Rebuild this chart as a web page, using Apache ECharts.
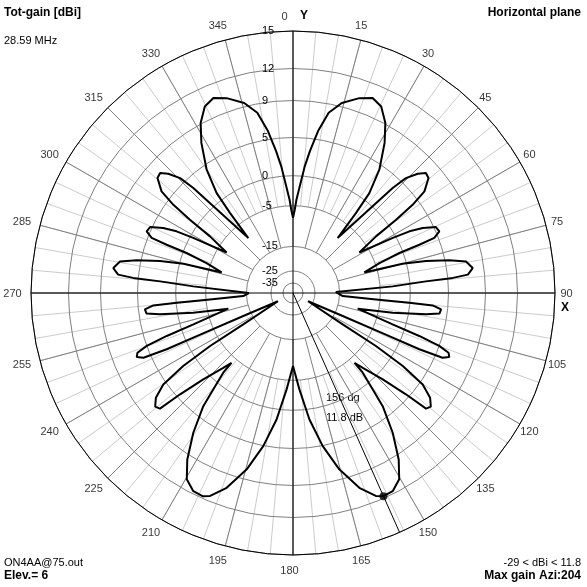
<!DOCTYPE html>
<html>
<head>
<meta charset="utf-8">
<script src="https://cdn.jsdelivr.net/npm/echarts@6/dist/echarts.min.js"></script>
<style>
  html, body { margin: 0; padding: 0; background: #ffffff; }
  #chart { width: 587px; height: 587px; }
</style>
</head>
<body>
<div id="chart"></div>
<script>
// Horizontal-plane pattern: azimuth (deg, clockwise from Y) and total gain (dBi)
const azimuthDeg = [
  0, 1.2, 2.1, 3.6, 5.3, 6.8, 8.8, 11.2, 14.4, 18.8, 22.2, 25.3, 28.5, 31.4, 35.0, 37.4, 38.2, 39.1,
  42.7, 43.5, 44.5, 46.3, 47.9, 49.7, 52.3, 53.6, 54.6, 55.7, 58.6,
  61.1, 62.1, 63.4, 65.2, 67.2, 68.7, 69.1, 69.4, 70.9, 73.9,
  75.0, 76.5, 78.2, 79.7, 82.1, 84.0, 84.6, 85.0, 86.2, 88.7, 90,
  93.5, 94.4, 94.8, 95.1, 96.3, 98.0, 99.1, 101.2, 103.6,
  107.5, 108.8, 109.9, 111.0, 112.3, 113.4, 114.0, 114.2, 114.8, 118.8,
  122.3, 122.6, 123.6, 125.2, 127.4, 129.5, 131.0, 131.9, 133.9, 137.0, 138.6,
  138.8, 140.4, 141.6, 144.5, 147.6, 150.3, 153.3, 156.0, 157.8, 161.2, 165.3, 169.0, 172.6, 176.2, 180,
  183.8, 187.4, 191.0, 194.7, 198.8, 202.2, 204.0, 206.7, 209.7, 212.4, 215.5, 218.4, 219.6, 221.2,
  221.4, 223.0, 226.1, 228.1, 229.0, 230.5, 232.6, 234.8, 236.4, 237.4, 237.7,
  241.2, 245.2, 245.8, 246.0, 246.6, 247.7, 249.0, 250.1, 251.2, 252.5,
  256.4, 258.8, 260.9, 262.0, 263.7, 264.9, 265.2, 265.6, 266.5,
  270, 271.3, 273.8, 275.0, 275.4, 276.0, 277.9, 280.3, 281.8, 283.5, 285.0,
  286.1, 289.1, 290.6, 290.9, 291.3, 292.8, 294.8, 296.6, 297.9, 298.9,
  301.4, 304.3, 305.4, 306.4, 307.7, 310.3, 312.1, 313.7, 315.5, 316.5, 317.3,
  320.9, 321.8, 322.6, 325.0, 328.6, 331.5, 334.7, 337.8, 341.2, 345.6, 348.8, 351.2, 353.2, 354.7,
  356.4, 357.9, 358.8, 360
];
const gainDbi = [
  -8.0, -6.0, -4.0, -1.75, 1.3, 3.35, 5.9, 8.05, 9.35, 10.25, 10.7, 10.3, 9.1, 7.2, 4.35, 1.1, -2.6, -9.05,
  0.65, 3.6, 5.6, 6.85, 7.55, 7.4, 6.15, 4.1, 1.2, -2.8, -7.35,
  -0.55, 1.9, 3.65, 5.2, 5.35, 4.5, 2.35, -0.6, -4.3, -8.2,
  -0.65, 2.55, 5.45, 7.2, 7.8, 7.2, 5.55, 2.1, -2.9, -16.5, -16.0,
  -14.2, -6.0, -0.1, 3.0, 4.15, 4.0, 2.3, -2.6, -10.1,
  -2.15, 2.1, 5.0, 6.2, 6.45, 5.8, 2.75, -2.6, -13.0, -29,
  -12.0, -3.15, 1.9, 5.35, 6.85, 7.5, 7.25, 4.5, 0.95, -2.5, -4.05,
  -1.9, 1.0, 3.55, 6.75, 9.45, 11.05, 11.75, 11.8, 11.5, 10.25, 7.9, 5.05, 1.35, -3.45, -8.5,
  -3.45, 1.35, 5.05, 7.9, 10.25, 11.5, 11.8, 11.75, 11.05, 9.45, 6.75, 3.55, 1.0, -1.9,
  -4.05, -2.5, 0.95, 4.5, 7.25, 7.5, 6.85, 5.35, 1.9, -3.15, -12.0,
  -29, -13.0, -2.6, 2.75, 5.8, 6.45, 6.2, 5.0, 2.1, -2.15,
  -10.1, -2.6, 2.3, 4.0, 4.15, 3.0, -0.1, -6.0, -14.2,
  -16.0, -16.5, -2.9, 2.1, 5.55, 7.2, 7.8, 7.2, 5.45, 2.55, -0.65,
  -8.2, -4.3, -0.6, 2.35, 4.5, 5.35, 5.2, 3.65, 1.9, -0.55,
  -7.35, -2.8, 1.2, 4.1, 6.15, 7.4, 7.55, 6.85, 5.6, 3.6, 0.65,
  -9.05, -2.6, 1.1, 4.35, 7.2, 9.1, 10.3, 10.7, 10.25, 9.35, 8.05, 5.9, 3.35, 1.3,
  -1.75, -4.0, -6.0, -8.0
];

// Radial scale: gain of each ring and its radius relative to the outer circle
const ringDbi = [-35, -25, -15, -5, 0, 5, 9, 12, 15];
const ringLevel = [0.0382, 0.0840, 0.1779, 0.3332, 0.4477, 0.5935, 0.7347, 0.8569, 1];

// Azimuth labels round the rim
const angleTicks = [0, 15, 30, 45, 60, 75, 90, 105, 120, 135, 150, 165, 180,
                    195, 210, 225, 240, 255, 270, 285, 300, 315, 330, 345];

// Maximum-gain direction
const maxGainAz = 156;
const maxGainDbi = 11.8;
const minGainDbi = -29;

// Map a dBi value onto the chart's radial scale (piecewise between rings)
function toLevel(db) {
  if (db <= ringDbi[0]) {
    return Math.max(0, ringLevel[0] * (db - ringDbi[0] + 10) / 10);
  }
  for (let i = 1; i < ringDbi.length; i++) {
    if (db <= ringDbi[i]) {
      const t = (db - ringDbi[i - 1]) / (ringDbi[i] - ringDbi[i - 1]);
      return ringLevel[i - 1] + t * (ringLevel[i] - ringLevel[i - 1]);
    }
  }
  return 1;
}
function ringLabel(level) {
  let best = 0;
  for (let i = 1; i < ringLevel.length; i++) {
    if (Math.abs(ringLevel[i] - level) < Math.abs(ringLevel[best] - level)) best = i;
  }
  return String(ringDbi[best]);
}

const FONT = '"Liberation Sans", Arial, sans-serif';
const CX = 293, CY = 293, R = 262;
const hidden = { show: false };

function plainAngleAxis(idx, interval, color, z) {
  return {
    polarIndex: idx, type: 'value', min: 0, max: 360, interval: interval,
    startAngle: 90, clockwise: true, z: z,
    axisLine: hidden, axisTick: hidden, axisLabel: hidden,
    splitLine: color ? { show: true, lineStyle: { color: color, width: 1 } } : hidden
  };
}
function plainRadiusAxis(idx) {
  return { polarIndex: idx, type: 'value', min: 0, max: 1,
           axisLine: hidden, axisTick: hidden, axisLabel: hidden, splitLine: hidden };
}

const chart = echarts.init(document.getElementById('chart'), null, { renderer: 'canvas' });

const option = {
  animation: false,
  backgroundColor: '#ffffff',
  polar: [
    { center: [CX, CY], radius: R },                          // pattern + rings
    { center: [CX, CY], radius: [ringLevel[3] * R, R] },      // 5-degree spokes
    { center: [CX, CY], radius: [ringLevel[2] * R, R] },      // 15-degree spokes
    { center: [CX, CY], radius: R },                          // X / Y axes
    { center: [CX - 3.5, CY + 0.5], radius: 277 }             // rim labels
  ],
  angleAxis: [
    {
      polarIndex: 0, type: 'value', min: 0, max: 360, startAngle: 90, clockwise: true, z: 4,
      axisLine: { show: true, lineStyle: { color: '#000000', width: 1 } },
      axisTick: hidden, axisLabel: hidden, splitLine: hidden
    },
    plainAngleAxis(1, 5, '#cccccc', 0),
    plainAngleAxis(2, 15, '#808080', 1),
    plainAngleAxis(3, 90, '#000000', 3),
    plainAngleAxis(4, 90, null, 0)
  ],
  radiusAxis: [
    {
      polarIndex: 0, type: 'value', min: 0, max: 1, z: 2,
      axisLine: hidden,
      axisTick: { show: false, customValues: ringLevel },
      axisLabel: {
        show: true, customValues: ringLevel, formatter: ringLabel,
        align: 'left', verticalAlign: 'middle', margin: 31,
        color: '#000000', fontSize: 11, fontFamily: FONT
      },
      splitLine: { show: true, lineStyle: { color: '#808080', width: 1 } }
    },
    plainRadiusAxis(1), plainRadiusAxis(2), plainRadiusAxis(3), plainRadiusAxis(4)
  ],
  series: [
    {
      name: 'Tot-gain', type: 'line', coordinateSystem: 'polar', polarIndex: 0,
      data: azimuthDeg.map((a, i) => [toLevel(gainDbi[i]), a]),
      showSymbol: false, symbol: 'none', smooth: false, clip: false, z: 6,
      lineStyle: { color: '#000000', width: 2 }
    },
    {
      name: 'Max direction', type: 'line', coordinateSystem: 'polar', polarIndex: 0,
      data: [[0, maxGainAz], [1, maxGainAz]],
      showSymbol: false, symbol: 'none', z: 5,
      lineStyle: { color: '#000000', width: 1 }
    },
    {
      name: 'Max gain', type: 'scatter', coordinateSystem: 'polar', polarIndex: 0,
      data: [[toLevel(maxGainDbi), maxGainAz]],
      symbol: 'circle', symbolSize: 8, z: 7,
      itemStyle: { color: '#000000' }
    },
    {
      name: 'Azimuth', type: 'scatter', coordinateSystem: 'polar', polarIndex: 4,
      data: angleTicks.map(a => (a === 0
        ? { value: [1, a], label: { offset: [-5, 0] } }
        : { value: [1, a] })),
      symbolSize: 1, z: 3, silent: true,
      itemStyle: { color: 'rgba(0,0,0,0)' },
      label: {
        show: true, position: 'inside', formatter: p => String(p.value[1]),
        color: '#000000', fontSize: 11, fontFamily: FONT
      }
    }
  ],
  graphic: [
    { type: 'text', x: 4, y: 12.5, style: { text: 'Tot-gain [dBi]', font: 'bold 12px ' + FONT, fill: '#000', verticalAlign: 'middle' } },
    { type: 'text', x: 4, y: 41, style: { text: '28.59 MHz', font: '11px ' + FONT, fill: '#000', verticalAlign: 'middle' } },
    { type: 'text', x: 581, y: 12.5, style: { text: 'Horizontal plane', font: 'bold 12px ' + FONT, fill: '#000', align: 'right', verticalAlign: 'middle' } },
    { type: 'text', x: 304, y: 15.5, style: { text: 'Y', font: 'bold 12px ' + FONT, fill: '#000', align: 'center', verticalAlign: 'middle' } },
    { type: 'text', x: 565, y: 308, style: { text: 'X', font: 'bold 12px ' + FONT, fill: '#000', align: 'center', verticalAlign: 'middle' } },
    { type: 'text', x: 326, y: 398, style: { text: maxGainAz + ' dg', font: '11px ' + FONT, fill: '#000', verticalAlign: 'middle' } },
    { type: 'text', x: 326, y: 418, style: { text: maxGainDbi.toFixed(1) + ' dB', font: '11px ' + FONT, fill: '#000', verticalAlign: 'middle' } },
    { type: 'text', x: 4, y: 562.5, style: { text: 'ON4AA@75.out', font: '11px ' + FONT, fill: '#000', verticalAlign: 'middle' } },
    { type: 'text', x: 4, y: 576, style: { text: 'Elev.= 6', font: 'bold 12px ' + FONT, fill: '#000', verticalAlign: 'middle' } },
    { type: 'text', x: 581, y: 562.5, style: { text: minGainDbi + ' < dBi < ' + maxGainDbi, font: '11px ' + FONT, fill: '#000', align: 'right', verticalAlign: 'middle' } },
    { type: 'text', x: 581, y: 576, style: { text: 'Max gain Azi:' + (360 - maxGainAz), font: 'bold 12px ' + FONT, fill: '#000', align: 'right', verticalAlign: 'middle' } }
  ]
};

chart.setOption(option);
</script>
</body>
</html>
